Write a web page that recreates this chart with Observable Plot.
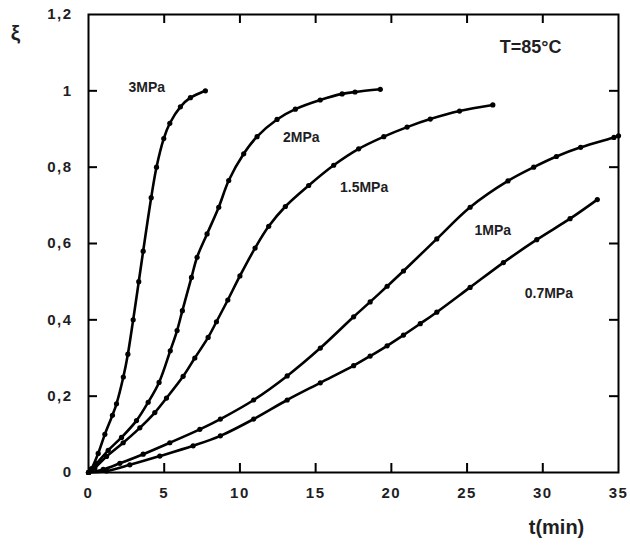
<!DOCTYPE html>
<html>
<head>
<meta charset="utf-8">
<script src="https://cdn.jsdelivr.net/npm/d3@7"></script>
<script src="https://cdn.jsdelivr.net/npm/@observablehq/plot@0.6"></script>
<style>
  html, body { margin: 0; padding: 0; background: #fff; }
  g[aria-label="y-axis tick label"] text, g[aria-label="x-axis tick label"] text { letter-spacing: 1.5px; }
  g[aria-label="curve labels"] text { letter-spacing: 2.5px; }
  g[aria-label="temperature"] text { letter-spacing: 4px; }
  g[aria-label="x title"] text { letter-spacing: 2px; }
</style>
</head>
<body>
<div id="chart"></div>
<script>
// Pressure series: time t (min) and conversion ξ
const t3MPa  = [0, 0.2, 0.64, 1.08, 1.58, 1.85, 2.3, 2.6, 2.95, 3.32, 3.61, 4.14, 4.49, 4.97, 5.37, 6.07, 6.73, 7.72];
const xi3MPa = [0, 0.01, 0.05, 0.1, 0.15, 0.18, 0.25, 0.31, 0.40, 0.50, 0.58, 0.72, 0.80, 0.875, 0.915, 0.958, 0.982, 1.0];

const t2MPa  = [0, 0.53, 1.3, 2.18, 3.17, 3.94, 4.66, 5.4, 5.85, 6.2, 6.8, 7.17, 7.83, 8.6, 9.26, 10.25, 11.13, 12.45, 13.66, 15.3, 16.75, 17.6, 19.27];
const xi2MPa = [0, 0.023, 0.058, 0.092, 0.136, 0.184, 0.236, 0.319, 0.372, 0.424, 0.511, 0.564, 0.625, 0.695, 0.765, 0.835, 0.88, 0.925, 0.952, 0.976, 0.992, 0.997, 1.004];

const t15MPa  = [0, 0.42, 1.19, 2.29, 3.39, 4.38, 5.15, 6.25, 7.02, 7.9, 8.45, 9.2, 10.0, 11.0, 11.9, 13.0, 14.54, 16.19, 17.84, 19.5, 21.04, 22.57, 24.5, 26.7];
const xi15MPa = [0, 0.012, 0.042, 0.078, 0.117, 0.157, 0.195, 0.252, 0.30, 0.354, 0.395, 0.452, 0.515, 0.588, 0.645, 0.697, 0.752, 0.805, 0.848, 0.88, 0.905, 0.926, 0.947, 0.963];

const t1MPa  = [0, 0.97, 2.07, 3.61, 5.37, 7.35, 8.71, 10.91, 13.12, 15.31, 17.51, 18.6, 19.72, 20.8, 23.0, 25.2, 27.7, 29.4, 30.9, 32.5, 34.7, 35.0];
const xi1MPa = [0, 0.008, 0.024, 0.048, 0.078, 0.113, 0.14, 0.19, 0.253, 0.326, 0.408, 0.447, 0.488, 0.528, 0.612, 0.695, 0.764, 0.80, 0.828, 0.852, 0.878, 0.882];

const t07MPa  = [0, 1.19, 2.73, 4.71, 6.91, 8.71, 10.91, 13.12, 15.31, 17.51, 18.6, 19.72, 20.8, 21.91, 23.0, 25.2, 27.4, 29.6, 31.8, 33.6];
const xi07MPa = [0, 0.004, 0.02, 0.043, 0.07, 0.096, 0.14, 0.19, 0.235, 0.28, 0.305, 0.332, 0.36, 0.39, 0.42, 0.485, 0.55, 0.61, 0.665, 0.715];

// Curve labels
const labelText = ["3MPa", "2MPa", "1.5MPa", "1MPa", "0.7MPa"];
const labelT    = [3.85, 14.05, 18.2, 26.7, 30.4];
const labelXi   = [1.008, 0.877, 0.746, 0.634, 0.469];

// Annotation
const tempText = "T=85°C";
const tempT = 29.2, tempXi = 1.113;

// Axes
const xTicks = [0, 5, 10, 15, 20, 25, 30, 35];
const yTicks = [0, 0.2, 0.4, 0.6, 0.8, 1, 1.2];
const yTickLabels = ["0", "0,2", "0,4", "0,6", "0,8", "1", "1,2"];
const xInner = [5, 10, 15, 20, 25, 30];
const yInner = [0.2, 0.4, 0.6, 0.8, 1.0];
const xTitle = "t(min)";
const yTitle = "ξ";

const series = [
  {p: "3MPa", t: t3MPa, xi: xi3MPa},
  {p: "2MPa", t: t2MPa, xi: xi2MPa},
  {p: "1.5MPa", t: t15MPa, xi: xi15MPa},
  {p: "1MPa", t: t1MPa, xi: xi1MPa},
  {p: "0.7MPa", t: t07MPa, xi: xi07MPa}
];
const points = series.flatMap(s => s.t.map((t, i) => ({p: s.p, t, xi: s.xi[i]})));
const labels = labelText.map((text, i) => ({text, t: labelT[i], xi: labelXi[i]}));

const ink = "#1e1e24";

// layout
const W = 630, H = 549, mL = 88, mR = 12, mT = 14, mB = 77;
const xDomain = [0, 35], yDomain = [0, 1.2];
const tickPx = 9;
const tickLenY = tickPx * (yDomain[1] - yDomain[0]) / (H - mT - mB);
const tickLenX = tickPx * (xDomain[1] - xDomain[0]) / (W - mL - mR);

const chart = Plot.plot({
  width: W,
  height: H,
  marginLeft: mL,
  marginRight: mR,
  marginTop: mT,
  marginBottom: mB,
  x: {domain: xDomain},
  y: {domain: yDomain},
  style: {fontFamily: "Arial, 'Liberation Sans', sans-serif", fontWeight: "bold", fontSize: "15px", color: ink},
  marks: [
    Plot.axisX({ticks: xTicks, tickSize: 0, tickPadding: 15, label: null}),
    Plot.axisY({ticks: yTicks, tickSize: 0, tickPadding: 16, label: null,
      tickFormat: d => yTickLabels[yTicks.findIndex(v => Math.abs(v - d) < 1e-9)]}),
    Plot.line(points, {x: "t", y: "xi", z: "p", stroke: "black", strokeWidth: 2.6, curve: "catmull-rom"}),
    Plot.dot(points, {x: "t", y: "xi", r: 2.6, fill: "black"}),
    Plot.text(labels, {x: "t", y: "xi", text: "text", fontSize: 14, fill: ink, textAnchor: "middle", ariaLabel: "curve labels"}),
    Plot.text([tempText], {x: () => tempT, y: () => tempXi, text: d => d, fontSize: 18, fill: ink, textAnchor: "middle", ariaLabel: "temperature"}),
    Plot.text([xTitle], {frameAnchor: "bottom-right", text: d => d, dx: -62, dy: 61, fontSize: 20, fill: ink, textAnchor: "middle", ariaLabel: "x title"}),
    Plot.text([yTitle], {frameAnchor: "top-left", text: d => d, dx: -73, dy: 11, fontSize: 21, fill: ink, textAnchor: "middle", ariaLabel: "y title"}),
    Plot.frame({stroke: "black", strokeWidth: 2}),
    // inward ticks on all four sides
    Plot.ruleX(xInner, {x: d => d, y1: () => yDomain[0], y2: () => yDomain[0] + tickLenY, stroke: "black", strokeWidth: 2}),
    Plot.ruleX(xInner, {x: d => d, y1: () => yDomain[1], y2: () => yDomain[1] - tickLenY, stroke: "black", strokeWidth: 2}),
    Plot.ruleY(yInner, {y: d => d, x1: () => xDomain[0], x2: () => xDomain[0] + tickLenX, stroke: "black", strokeWidth: 2}),
    Plot.ruleY(yInner, {y: d => d, x1: () => xDomain[1], x2: () => xDomain[1] - tickLenX, stroke: "black", strokeWidth: 2})
  ]
});
document.getElementById("chart").appendChild(chart);
</script>
</body>
</html>
